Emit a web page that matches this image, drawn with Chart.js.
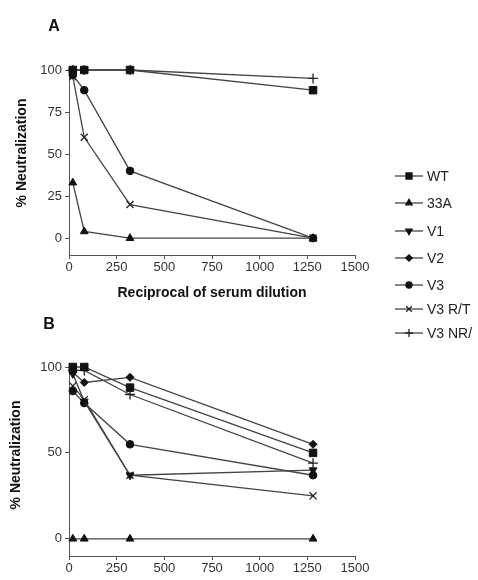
<!DOCTYPE html>
<html><head><meta charset="utf-8">
<script src="https://cdn.jsdelivr.net/npm/chart.js@4/dist/chart.umd.min.js"></script>
<style>
html,body{margin:0;padding:0;background:#fff;width:478px;height:580px;overflow:hidden;}
.wrap{position:absolute;left:0;width:478px;}
</style></head><body>
<div class="wrap" style="top:0;height:345px"><canvas id="cA" width="478" height="345"></canvas></div>
<div class="wrap" style="top:300px;height:280px"><canvas id="cB" width="478" height="280"></canvas></div>
<script>
// ---- data ----
const dilutions = [20, 80, 320, 1280];
const seriesNames = ['WT', '33A', 'V1', 'V2', 'V3', 'V3 R/T', 'V3 NR/'];
// Panel A
const wtA    = [100, 100, 100, 88];
const s33aA  = [33, 4, 0, 0];
const v1A    = [null, null, null, null];
const v2A    = [null, null, null, null];
const v3A    = [97, 88, 40, 0];
const v3rtA  = [96, 60, 20, 0];
const v3nrA  = [100, 100, 100, 95];
// Panel B
const wtB    = [100, 100, 88, 50];
const s33aB  = [0, 0, 0, 0];
const v1B    = [96, 80, 37, 40];
const v2B    = [97, 91, 94, 55];
const v3B    = [86, 79, 55, 37];
const v3rtB  = [89, 81, 37, 25];
const v3nrB  = [98, 98, 84, 44];
const xTicks = [0, 250, 500, 750, 1000, 1250, 1500];
const yTicksA = [0, 25, 50, 75, 100];
const yTicksB = [0, 50, 100];

// ---- styles ----
const FONT = "'Liberation Sans', Arial, sans-serif";
const LINE = '#444';
const INK = '#111';
const styles = [
  {pointStyle:'rect', radius:5.3, rotation:0},
  {pointStyle:'triangle', radius:4.5, rotation:0},
  {pointStyle:'triangle', radius:4.5, rotation:180},
  {pointStyle:'rectRot', radius:4, rotation:0},
  {pointStyle:'circle', radius:3.8, rotation:0},
  {pointStyle:'crossRot', radius:5, rotation:0},
  {pointStyle:'cross', radius:5, rotation:0}
];

function makeDatasets(arrs){
  return arrs.map((vals, i) => ({
    label: seriesNames[i],
    data: dilutions.map((x, j) => ({x: x, y: vals[j]})),
    borderColor: LINE,
    borderWidth: 1.3,
    backgroundColor: INK,
    pointBackgroundColor: INK,
    pointBorderColor: (styles[i].pointStyle.startsWith('cross')) ? '#222' : INK,
    pointBorderWidth: (styles[i].pointStyle.startsWith('cross')) ? 1.3 : 1,
    pointStyle: styles[i].pointStyle,
    pointRotation: styles[i].rotation,
    pointRadius: styles[i].radius,
    pointHoverRadius: styles[i].radius,
    clip: false,
    tension: 0,
    spanGaps: false
  }));
}

function scales(yTicks, xHeight, showXTitle){
  return {
    x: {
      type:'linear', min:0, max:1500,
      afterBuildTicks: s => { s.ticks = xTicks.map(v => ({value:v})); },
      afterFit: s => { s.height = xHeight; },
      grid:{display:true, drawOnChartArea:false, drawTicks:true, tickLength:4, color:'#555'},
      border:{display:true, color:'#555', width:1},
      ticks:{font:{family:FONT, size:13}, color:'#333', padding:1, maxRotation:0, autoSkip:false,
             callback: v => String(v)},
      title:{display:showXTitle, text:'Reciprocal of serum dilution', font:{family:FONT, size:14, weight:'bold'}, color:'#111', padding:{top:0,bottom:0}}
    },
    y: {
      type:'linear', min:-10, max:100,
      afterBuildTicks: s => { s.ticks = yTicks.map(v => ({value:v})); },
      afterFit: s => { s.width = 69; },
      grid:{display:true, drawOnChartArea:false, drawTicks:true, tickLength:4, color:'#555'},
      border:{display:true, color:'#555', width:1},
      ticks:{font:{family:FONT, size:13}, color:'#333', padding:3, callback: v => String(v)}
    }
  };
}

function textPlugin(items){
  return {
    id:'texts',
    afterDraw(chart){
      const ctx = chart.ctx;
      items.forEach(t => {
        ctx.save();
        ctx.font = t.font;
        ctx.fillStyle = '#111';
        ctx.textAlign = 'center';
        ctx.textBaseline = 'middle';
        ctx.translate(t.x, t.y);
        if (t.rot) ctx.rotate(t.rot);
        ctx.fillText(t.text, 0, 0);
        ctx.restore();
      });
    }
  };
}

const legendY = [176, 203, 231, 258, 285, 309, 333];
const legendPlugin = {
  id:'customLegend',
  afterDraw(chart){
    const ctx = chart.ctx;
    chart.data.datasets.forEach((ds, i) => {
      const y = legendY[i];
      ctx.save();
      ctx.strokeStyle = LINE;
      ctx.lineWidth = 1.3;
      ctx.beginPath(); ctx.moveTo(395, y); ctx.lineTo(423, y); ctx.stroke();
      ctx.fillStyle = INK;
      ctx.strokeStyle = ds.pointBorderColor;
      Chart.helpers.drawPoint(ctx, {
        pointStyle: styles[i].pointStyle,
        rotation: styles[i].rotation,
        radius: styles[i].radius * 0.8,
        borderWidth: ds.pointBorderWidth
      }, 409, y);
      ctx.fillStyle = '#222';
      ctx.font = '14px ' + FONT;
      ctx.textAlign = 'left';
      ctx.textBaseline = 'middle';
      ctx.fillText(ds.label, 427, y + 1);
      ctx.restore();
    });
  }
};

new Chart(document.getElementById('cA'), {
  type:'line',
  data:{datasets: makeDatasets([wtA, s33aA, v1A, v2A, v3A, v3rtA, v3nrA])},
  options:{
    responsive:false, animation:false, devicePixelRatio:1,
    layout:{padding:{left:0, right:123, top:70, bottom:43}},
    plugins:{legend:{display:false}, tooltip:{enabled:false}},
    scales: scales(yTicksA, 47, true)
  },
  plugins:[legendPlugin, textPlugin([
    {text:'A', x:54, y:27, font:'bold 16px ' + FONT},
    {text:'% Neutralization', x:22, y:153, rot:-Math.PI/2, font:'bold 14px ' + FONT}
  ])]
});

new Chart(document.getElementById('cB'), {
  type:'line',
  data:{datasets: makeDatasets([wtB, s33aB, v1B, v2B, v3B, v3rtB, v3nrB])},
  options:{
    responsive:false, animation:false, devicePixelRatio:1,
    layout:{padding:{left:0, right:123, top:67, bottom:0}},
    plugins:{legend:{display:false}, tooltip:{enabled:false}},
    scales: scales(yTicksB, 24, false)
  },
  plugins:[textPlugin([
    {text:'B', x:49, y:25, font:'bold 16px ' + FONT},
    {text:'% Neutralization', x:16, y:155, rot:-Math.PI/2, font:'bold 14px ' + FONT}
  ])]
});
</script>
</body></html>
